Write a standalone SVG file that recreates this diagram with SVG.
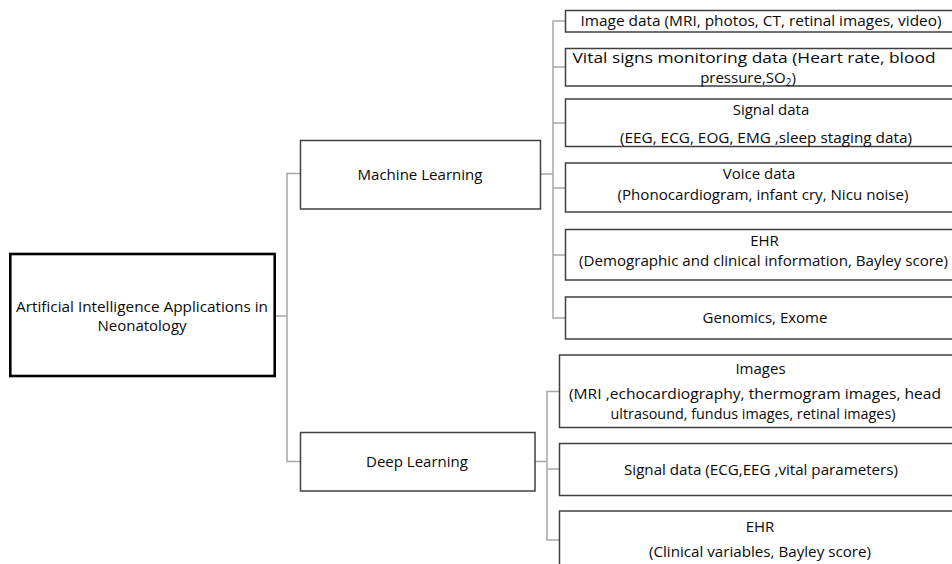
<svg xmlns="http://www.w3.org/2000/svg" width="952" height="564" viewBox="0 0 952 564">
  <style>
    .box { fill: #ffffff; stroke: #404040; stroke-width: 1.5; }
    .root { fill: #ffffff; stroke: #000000; stroke-width: 2.6; }
    .link { fill: none; stroke: #a6a6a6; stroke-width: 1.5; }
    text { font-family: "Open Sans", "Noto Sans", "Liberation Sans", sans-serif; font-size: 15px; fill: #0a0a0a; text-anchor: middle; }
    .sub { font-size: 10px; }
  </style>
  <rect width="952" height="564" fill="#ffffff"/>

  <!-- connectors -->
  <g id="connectors">
    <path class="link" d="M275 316 H287"/>
    <path class="link" d="M300 173.5 H287 V461.5 H300"/>
    <path class="link" d="M540.5 174 H553"/>
    <path class="link" d="M565.5 21 H553 V318 H565.5"/>
    <path class="link" d="M553 67 H565.5 M553 123 H565.5 M553 188 H565.5 M553 255 H565.5"/>
    <path class="link" d="M535 461.5 H547"/>
    <path class="link" d="M559.5 391.5 H547 V540 H559.5"/>
    <path class="link" d="M547 469 H559.5"/>
  </g>

  <!-- root -->
  <g id="root">
    <rect class="root" x="10.3" y="254" width="264.4" height="122"/>
    <text x="142" y="312" textLength="252" lengthAdjust="spacingAndGlyphs">Artificial Intelligence Applications in</text>
    <text x="142" y="331">Neonatology</text>
  </g>

  <!-- level 1 -->
  <g id="machine-learning">
    <rect class="box" x="300.5" y="140.5" width="240" height="68.5"/>
    <text x="420" y="180" textLength="125" lengthAdjust="spacingAndGlyphs">Machine Learning</text>
  </g>
  <g id="deep-learning">
    <rect class="box" x="300.5" y="432.5" width="234.5" height="58.5"/>
    <text x="417" y="467">Deep Learning</text>
  </g>

  <!-- machine learning data sources -->
  <g id="ml-image">
    <rect class="box" x="565.5" y="10.5" width="400" height="21.5"/>
    <text x="761" y="26" textLength="361" lengthAdjust="spacingAndGlyphs">Image data (MRI, photos, CT, retinal images, video)</text>
  </g>
  <g id="ml-vital">
    <rect class="box" x="565.5" y="48.5" width="400" height="37.5"/>
    <text x="754" y="62.5" textLength="363" lengthAdjust="spacingAndGlyphs">Vital signs monitoring data (Heart rate, blood</text>
    <text x="748" y="82.5">pressure,SO<tspan class="sub" dy="3">2</tspan><tspan dy="-3">)</tspan></text>
  </g>
  <g id="ml-signal">
    <rect class="box" x="565.5" y="99" width="400" height="47.5"/>
    <text x="771" y="115">Signal data</text>
    <text x="766" y="143" textLength="292" lengthAdjust="spacingAndGlyphs">(EEG, ECG, EOG, EMG ,sleep staging data)</text>
  </g>
  <g id="ml-voice">
    <rect class="box" x="565.5" y="163" width="400" height="49"/>
    <text x="759" y="178.5">Voice data</text>
    <text x="763" y="200" textLength="291" lengthAdjust="spacingAndGlyphs">(Phonocardiogram, infant cry, Nicu noise)</text>
  </g>
  <g id="ml-ehr">
    <rect class="box" x="565.5" y="229.5" width="400" height="50.5"/>
    <text x="764.5" y="246">EHR</text>
    <text x="763.5" y="266" textLength="369" lengthAdjust="spacingAndGlyphs">(Demographic and clinical information, Bayley score)</text>
  </g>
  <g id="ml-genomics">
    <rect class="box" x="565.5" y="297" width="400" height="42"/>
    <text x="765" y="322.5">Genomics, Exome</text>
  </g>

  <!-- deep learning data sources -->
  <g id="dl-images">
    <rect class="box" x="559.5" y="355" width="410" height="72.5"/>
    <text x="760.5" y="373.5">Images</text>
    <text x="755" y="398.5" textLength="372" lengthAdjust="spacingAndGlyphs">(MRI ,echocardiography, thermogram images, head</text>
    <text x="753" y="418.5" textLength="285" lengthAdjust="spacingAndGlyphs">ultrasound, fundus images, retinal images)</text>
  </g>
  <g id="dl-signal">
    <rect class="box" x="559.5" y="443.5" width="410" height="52"/>
    <text x="761" y="475" textLength="274" lengthAdjust="spacingAndGlyphs">Signal data (ECG,EEG ,vital parameters)</text>
  </g>
  <g id="dl-ehr">
    <rect class="box" x="559.5" y="511" width="410" height="70"/>
    <text x="760" y="531.5">EHR</text>
    <text x="760" y="556.5" textLength="222" lengthAdjust="spacingAndGlyphs">(Clinical variables, Bayley score)</text>
  </g>
</svg>
